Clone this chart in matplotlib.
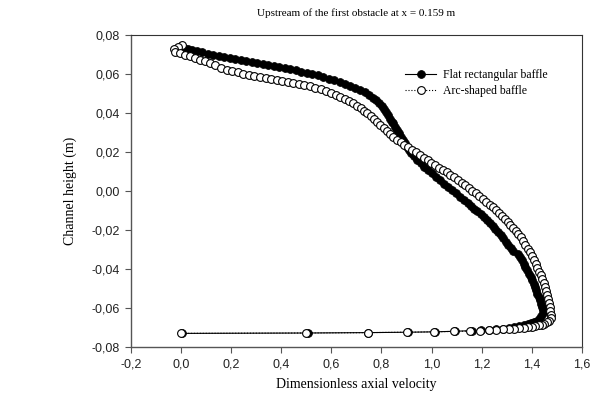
import matplotlib
matplotlib.use("Agg")
import matplotlib.pyplot as plt
from matplotlib.ticker import FuncFormatter, MultipleLocator

# Flat rectangular baffle (filled markers): axial velocity / channel height
flat_u = [
    0.000, 0.012, 0.028, 0.046, 0.066, 0.086, 0.106, 0.128, 0.150, 0.172,
    0.194, 0.216, 0.238, 0.260, 0.282, 0.304, 0.326, 0.348, 0.370, 0.392,
    0.414, 0.436, 0.458, 0.480, 0.502, 0.524, 0.546, 0.568, 0.590, 0.612,
    0.634, 0.656, 0.676, 0.696, 0.716, 0.734, 0.751, 0.766, 0.780, 0.792,
    0.802, 0.811, 0.819, 0.826, 0.834, 0.841, 0.848, 0.855, 0.862, 0.869,
    0.877, 0.884, 0.892, 0.900, 0.908, 0.916, 0.929, 0.942, 0.956, 0.970,
    0.984, 1.000, 1.016, 1.032, 1.048, 1.064, 1.080, 1.096, 1.112, 1.128,
    1.144, 1.157, 1.170, 1.183, 1.196, 1.208, 1.220, 1.232, 1.243, 1.254,
    1.265, 1.276, 1.286, 1.296, 1.306, 1.316, 1.326, 1.344, 1.352, 1.360,
    1.367, 1.374, 1.381, 1.388, 1.396, 1.401, 1.407, 1.412, 1.417, 1.422,
    1.428, 1.432, 1.436, 1.440, 1.444, 1.443, 1.438, 1.430, 1.420, 1.410,
    1.398, 1.384, 1.368, 1.350, 1.330, 1.308, 1.284, 1.258, 1.228, 1.197,
    1.160, 1.095, 1.015, 0.905, 0.748, 0.505, 0.005,
]
flat_y = [
    0.0742, 0.0736, 0.0730, 0.0724, 0.0717, 0.0711, 0.0705, 0.0699, 0.0694, 0.0689,
    0.0684, 0.0679, 0.0674, 0.0669, 0.0664, 0.0659, 0.0654, 0.0649, 0.0643, 0.0637,
    0.0631, 0.0625, 0.0619, 0.0613, 0.0607, 0.0600, 0.0593, 0.0585, 0.0577, 0.0568,
    0.0559, 0.0549, 0.0540, 0.0530, 0.0519, 0.0507, 0.0494, 0.0480, 0.0466, 0.0451,
    0.0436, 0.0420, 0.0404, 0.0388, 0.0372, 0.0356, 0.0349, 0.0331, 0.0314, 0.0297,
    0.0279, 0.0262, 0.0245, 0.0228, 0.0212, 0.0195, 0.0178, 0.0161, 0.0144, 0.0126,
    0.0108, 0.0091, 0.0073, 0.0056, 0.0038, 0.0021, 0.0004, -0.0012, -0.0029, -0.0045,
    -0.0062, -0.0076, -0.0090, -0.0104, -0.0118, -0.0133, -0.0149, -0.0164, -0.0180, -0.0196,
    -0.0211, -0.0227, -0.0243, -0.0259, -0.0275, -0.0290, -0.0305, -0.0322, -0.0339, -0.0356,
    -0.0373, -0.0390, -0.0407, -0.0424, -0.0441, -0.0458, -0.0475, -0.0492, -0.0509, -0.0526,
    -0.0544, -0.0561, -0.0577, -0.0594, -0.0610, -0.0627, -0.0643, -0.0655, -0.0665, -0.0672,
    -0.0678, -0.0684, -0.0689, -0.0694, -0.0698, -0.0702, -0.0705, -0.0708, -0.0711, -0.0714,
    -0.0716, -0.0719, -0.0722, -0.0724, -0.0726, -0.0728, -0.0730,
]

# Arc-shaped baffle (open markers)
arc_u = [
    0.004, -0.012, -0.028, -0.024, -0.004, 0.016, 0.036, 0.056, 0.076, 0.096,
    0.116, 0.136, 0.160, 0.184, 0.204, 0.226, 0.248, 0.270, 0.292, 0.316,
    0.338, 0.360, 0.382, 0.404, 0.426, 0.448, 0.470, 0.492, 0.514, 0.536,
    0.558, 0.578, 0.598, 0.618, 0.636, 0.654, 0.672, 0.688, 0.704, 0.718,
    0.732, 0.744, 0.757, 0.770, 0.783, 0.796, 0.809, 0.822, 0.835, 0.848,
    0.862, 0.876, 0.890, 0.904, 0.920, 0.936, 0.952, 0.968, 0.984, 0.999,
    1.014, 1.030, 1.045, 1.060, 1.075, 1.090, 1.105, 1.120, 1.135, 1.149,
    1.163, 1.177, 1.191, 1.205, 1.218, 1.231, 1.244, 1.257, 1.270, 1.281,
    1.292, 1.303, 1.314, 1.325, 1.336, 1.346, 1.356, 1.365, 1.374, 1.383,
    1.392, 1.400, 1.408, 1.415, 1.422, 1.429, 1.436, 1.442, 1.448, 1.452,
    1.456, 1.460, 1.464, 1.468, 1.471, 1.474, 1.478, 1.476, 1.470, 1.462,
    1.450, 1.440, 1.428, 1.414, 1.400, 1.385, 1.368, 1.350, 1.330, 1.308,
    1.284, 1.258, 1.228, 1.195, 1.155, 1.090, 1.010, 0.900, 0.745, 0.500,
    0.000,
]
arc_y = [
    0.0749, 0.0740, 0.0728, 0.0716, 0.0707, 0.0700, 0.0693, 0.0684, 0.0674, 0.0665,
    0.0655, 0.0645, 0.0633, 0.0621, 0.0615, 0.0609, 0.0603, 0.0597, 0.0591, 0.0585,
    0.0580, 0.0575, 0.0570, 0.0564, 0.0559, 0.0554, 0.0549, 0.0543, 0.0537, 0.0530,
    0.0522, 0.0514, 0.0505, 0.0495, 0.0485, 0.0474, 0.0463, 0.0451, 0.0438, 0.0424,
    0.0411, 0.0400, 0.0385, 0.0369, 0.0353, 0.0338, 0.0322, 0.0307, 0.0292, 0.0277,
    0.0264, 0.0251, 0.0238, 0.0226, 0.0212, 0.0198, 0.0185, 0.0172, 0.0159, 0.0146,
    0.0134, 0.0121, 0.0109, 0.0097, 0.0084, 0.0070, 0.0057, 0.0043, 0.0030, 0.0016,
    0.0002, -0.0012, -0.0026, -0.0040, -0.0054, -0.0069, -0.0084, -0.0098, -0.0113, -0.0128,
    -0.0144, -0.0159, -0.0175, -0.0190, -0.0206, -0.0221, -0.0236, -0.0256, -0.0276, -0.0295,
    -0.0315, -0.0334, -0.0354, -0.0374, -0.0393, -0.0413, -0.0433, -0.0452, -0.0472, -0.0492,
    -0.0513, -0.0533, -0.0554, -0.0574, -0.0595, -0.0615, -0.0636, -0.0652, -0.0664, -0.0673,
    -0.0680, -0.0685, -0.0689, -0.0693, -0.0696, -0.0699, -0.0702, -0.0704, -0.0706, -0.0708,
    -0.0710, -0.0712, -0.0714, -0.0716, -0.0718, -0.0720, -0.0722, -0.0724, -0.0726, -0.0728,
    -0.0730,
]

serif = "Liberation Serif"
sans = "Liberation Sans"

fig = plt.figure(figsize=(6.0, 4.04), dpi=100)
ax = fig.add_axes([0.218, 0.141, 0.752, 0.772])

ax.plot(flat_u, flat_y, "-", color="black", lw=0.8, marker="o", ms=5.6,
        mfc="black", mec="black", mew=0.6, label="Flat rectangular baffle")
ax.plot(arc_u, arc_y, ":", color="black", lw=0.8, marker="o", ms=5.6,
        mfc="white", mec="black", mew=0.8, label="Arc-shaped baffle")

ax.set_xlim(-0.2, 1.6)
ax.set_ylim(-0.08, 0.08)
ax.xaxis.set_major_locator(MultipleLocator(0.2))
ax.yaxis.set_major_locator(MultipleLocator(0.02))
ax.xaxis.set_major_formatter(FuncFormatter(lambda v, p: f"{v:.1f}".replace(".", ",")))
ax.yaxis.set_major_formatter(FuncFormatter(lambda v, p: f"{v:.2f}".replace(".", ",")))

ax.tick_params(direction="out", length=4, width=0.8, color="#555555",
               labelsize=9, pad=4)
for lab in ax.get_xticklabels() + ax.get_yticklabels():
    lab.set_fontfamily(sans)
    lab.set_color("#222222")

for side in ("left", "bottom"):
    ax.spines[side].set_color("#555555")
    ax.spines[side].set_linewidth(1.0)
for side in ("top", "right"):
    ax.spines[side].set_color("#333333")
    ax.spines[side].set_linewidth(0.8)

ax.set_xlabel("Dimensionless axial velocity", fontfamily=serif, fontsize=10, labelpad=6)
ax.set_ylabel("Channel height (m)", fontfamily=serif, fontsize=10, labelpad=10)
ax.set_title("Upstream of the first obstacle at x = 0.159 m", fontfamily=serif,
             fontsize=8, pad=14)

ax.legend(loc="upper left", bbox_to_anchor=(0.585, 0.925), frameon=False,
          prop={"family": serif, "size": 8.5}, handlelength=2.6,
          labelspacing=0.35, handletextpad=0.6)

fig.savefig("out.png", dpi=100)
